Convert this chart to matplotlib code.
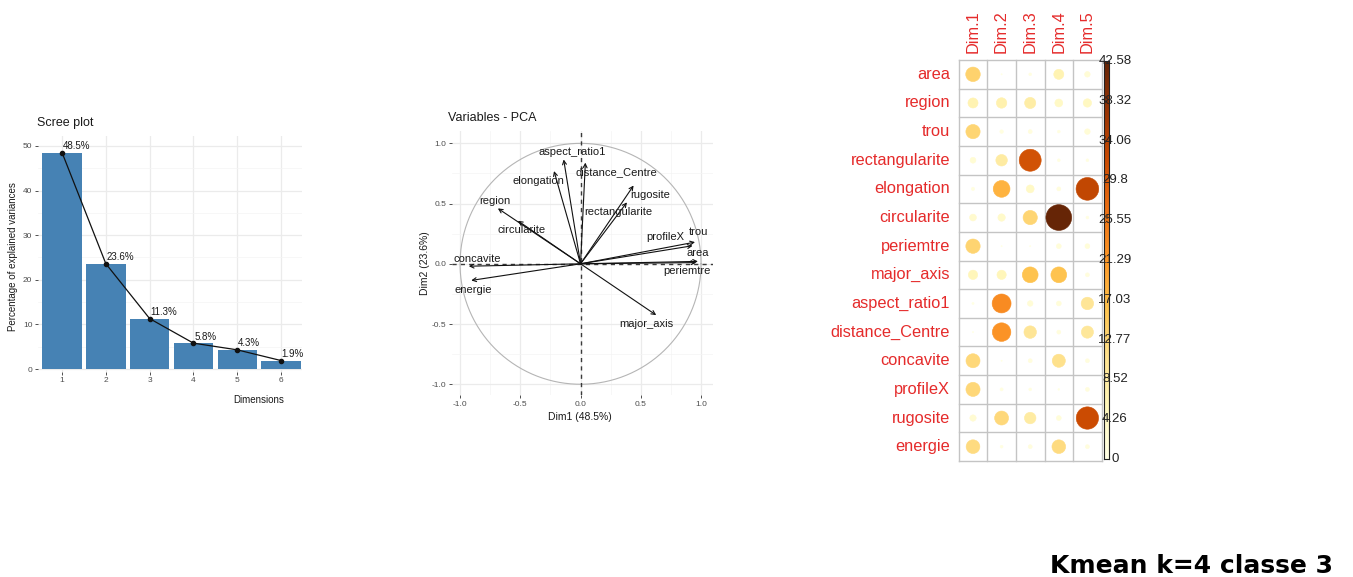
import matplotlib
matplotlib.use("Agg")
import matplotlib.pyplot as plt
import numpy as np
from matplotlib.patches import Circle
from matplotlib.transforms import blended_transform_factory

plt.rcParams['font.family'] = ['Liberation Sans', 'DejaVu Sans']

# scree plot
dims = [1, 2, 3, 4, 5, 6]
expl_var = [48.5, 23.6, 11.3, 5.8, 4.3, 1.9]

# variable coordinates on Dim1 / Dim2
var_names = ['area', 'region', 'trou', 'rectangularite', 'elongation', 'circularite',
             'periemtre', 'major_axis', 'aspect_ratio1', 'distance_Centre', 'concavite',
             'profileX', 'rugosite', 'energie']
dim1_coord = [0.974, -0.686, 0.95, 0.385, -0.22, -0.52, 0.96, 0.628, -0.14, 0.04,
              -0.927, 0.93, 0.44, -0.907]
dim2_coord = [0.02, 0.46, 0.18, 0.51, 0.77, 0.357, 0.01, -0.426, 0.866, 0.84,
              -0.02, 0.15, 0.65, -0.138]

# contributions of the variables to each dimension (%)
dim_names = ['Dim.1', 'Dim.2', 'Dim.3', 'Dim.4', 'Dim.5']
contrib_dim1 = [13.5, 6.5, 13.0, 2.2, 0.7, 3.0, 13.2, 5.6, 0.3, 0.1, 12.6, 12.8, 2.6, 12.1]
contrib_dim2 = [0.1, 7.0, 0.8, 8.5, 18.0, 3.5, 0.1, 5.5, 23.0, 22.0, 0.1, 0.6, 12.5, 0.5]
contrib_dim3 = [0.5, 8.0, 1.0, 31.0, 4.0, 13.0, 0.1, 16.0, 2.0, 10.0, 1.0, 0.5, 8.5, 1.0]
contrib_dim4 = [6.5, 4.0, 0.5, 0.5, 1.0, 42.576, 1.5, 16.0, 1.5, 1.0, 11.0, 0.2, 1.5, 12.0]
contrib_dim5 = [2.0, 4.5, 2.0, 0.5, 33.0, 0.5, 1.5, 1.0, 10.0, 9.5, 1.0, 1.0, 32.0, 1.0]

W, H = 1353, 577
fig = plt.figure(figsize=(W / 100, H / 100), dpi=100)


def px_axes(left, top, right, bottom):
    return fig.add_axes([left / W, 1 - bottom / H, (right - left) / W, (bottom - top) / H])


def gg_style(ax):
    for s in ax.spines.values():
        s.set_visible(False)
    ax.tick_params(which='major', labelsize=6, labelcolor='#4D4D4D', color='#333333',
                   length=2.5, width=0.6, pad=1.5)
    ax.tick_params(which='minor', length=0)
    ax.grid(which='major', color='#EBEBEB', lw=0.9)
    ax.grid(which='minor', color='#F4F4F4', lw=0.5)
    ax.set_axisbelow(True)


# ---- Scree plot ----
ax1 = px_axes(38, 135.7, 302, 371.7)
ax1.bar(dims, expl_var, width=0.9, color='#4682B4', zorder=2)
ax1.plot(dims, expl_var, color='#111111', lw=0.9, marker='o', ms=3, zorder=3)
for d, v in zip(dims, expl_var):
    ax1.annotate(f'{v}%', (d, v), xytext=(0.5, 1), textcoords='offset points',
                 ha='left', va='bottom', fontsize=7, color='#1A1A1A', zorder=4)
ax1.set_xlim(0.45, 6.48)
ax1.set_ylim(-0.6, 52.3)
ax1.set_xticks(dims)
ax1.set_yticks([0, 10, 20, 30, 40, 50])
ax1.set_yticks([5, 15, 25, 35, 45], minor=True)
gg_style(ax1)
fig.text(37 / W, 1 - 123 / H, 'Scree plot', fontsize=9, ha='left', va='center', color='#1A1A1A')
fig.text(13 / W, 1 - 257 / H, 'Percentage of explained variances', fontsize=7,
         rotation=90, ha='center', va='center', color='#1A1A1A')
fig.text(259 / W, 1 - 400 / H, 'Dimensions', fontsize=7, ha='center', va='center',
         color='#1A1A1A')

# ---- Variables - PCA ----
lab_xy = {'aspect_ratio1': (-0.07, 0.93), 'distance_Centre': (0.30, 0.76),
          'elongation': (-0.35, 0.69), 'rugosite': (0.58, 0.57),
          'rectangularite': (0.31, 0.43), 'region': (-0.71, 0.52),
          'circularite': (-0.49, 0.28), 'profileX': (0.70, 0.22), 'trou': (0.98, 0.26),
          'area': (0.97, 0.09), 'concavite': (-0.86, 0.04), 'periemtre': (0.88, -0.06),
          'energie': (-0.89, -0.22), 'major_axis': (0.55, -0.50)}

ax2 = px_axes(451.6, 131.3, 713.1, 395.1)
t = np.linspace(0, 2 * np.pi, 400)
ax2.plot(np.cos(t), np.sin(t), color='#B5B5B5', lw=0.8, zorder=2)
ax2.axhline(0, color='#3A3A3A', lw=1.0, ls=(0, (3, 3)), zorder=2)
ax2.axvline(0, color='#3A3A3A', lw=1.0, ls=(0, (3, 3)), zorder=2)
for name, x, y in zip(var_names, dim1_coord, dim2_coord):
    ax2.annotate('', xy=(x, y), xytext=(0, 0),
                 arrowprops=dict(arrowstyle='->', color='#111111', lw=0.8,
                                 shrinkA=0, shrinkB=0, mutation_scale=7), zorder=3)
    lx, ly = lab_xy[name]
    ax2.text(lx, ly, name, fontsize=8, ha='center', va='center', color='#1A1A1A', zorder=4)
ax2.set_xlim(-1.07, 1.1)
ax2.set_ylim(-1.09, 1.1)
ticks = [-1.0, -0.5, 0.0, 0.5, 1.0]
ax2.set_xticks(ticks)
ax2.set_yticks(ticks)
ax2.set_xticklabels([f'{v:.1f}' for v in ticks])
ax2.set_yticklabels([f'{v:.1f}' for v in ticks])
ax2.set_xticks([-0.75, -0.25, 0.25, 0.75], minor=True)
ax2.set_yticks([-0.75, -0.25, 0.25, 0.75], minor=True)
gg_style(ax2)
fig.text(448 / W, 1 - 118 / H, 'Variables - PCA', fontsize=9, ha='left', va='center',
         color='#1A1A1A')
fig.text(425 / W, 1 - 263 / H, 'Dim2 (23.6%)', fontsize=7.5, rotation=90, ha='center',
         va='center', color='#1A1A1A')
fig.text(580 / W, 1 - 417 / H, 'Dim1 (48.5%)', fontsize=7.5, ha='center', va='center',
         color='#1A1A1A')

# ---- contribution circles ----
contrib = np.array([contrib_dim1, contrib_dim2, contrib_dim3, contrib_dim4, contrib_dim5]).T
vmax = contrib.max()
cmap = plt.get_cmap('YlOrBr')
n_rows = len(var_names)

ax3 = px_axes(958.7, 60, 1101.7, 461)
ax3.set_xlim(0.5, 5.5)
ax3.set_ylim(0.5, n_rows + 0.5)
ax3.axis('off')
for i, name in enumerate(var_names):
    yy = n_rows - i
    for j in range(len(dim_names)):
        v = contrib[i, j]
        r = 0.45 * np.sqrt(v / vmax)
        c = cmap(v / vmax)
        ax3.add_patch(Circle((j + 1, yy), r, facecolor=c, edgecolor=c, lw=0.4, zorder=3))
    ax3.text(0.2, yy, name, fontsize=11.8, ha='right', va='center', color='#E52B2B')
for j, d in enumerate(dim_names):
    ax3.text(j + 1, n_rows + 0.75, d, fontsize=11.8, rotation=90, ha='center', va='bottom',
             color='#E52B2B')
for xg in np.arange(0.5, 5.6, 1):
    ax3.plot([xg, xg], [0.5, n_rows + 0.5], color='#C4C4C4', lw=1, zorder=2, clip_on=False)
for yg in np.arange(0.5, n_rows + 0.6, 1):
    ax3.plot([0.5, 5.5], [yg, yg], color='#C4C4C4', lw=1, zorder=2, clip_on=False)

# colour legend
cax = px_axes(1103.5, 61, 1108.5, 459)
cax.imshow(np.linspace(0, 1, 256)[:, None], cmap=cmap, aspect='auto', origin='lower',
           extent=[0, 1, 0, vmax])
cax.set_xticks([])
cax.set_yticks([])
for s in cax.spines.values():
    s.set_color('#222222')
    s.set_linewidth(0.8)
trans = blended_transform_factory(fig.transFigure, cax.transData)
for v in np.linspace(0, vmax, 11):
    cax.text(1115 / W, v, f'{round(v, 2):g}', transform=trans, fontsize=9.5,
             ha='center', va='center', color='#222222', clip_on=False)

fig.text(1333 / W, 1 - 566 / H, 'Kmean k=4 classe 3', fontsize=18, fontweight='bold',
         family='DejaVu Sans', ha='right', va='center', color='black')

fig.savefig('out.png', dpi=100, facecolor='white')
plt.close(fig)
